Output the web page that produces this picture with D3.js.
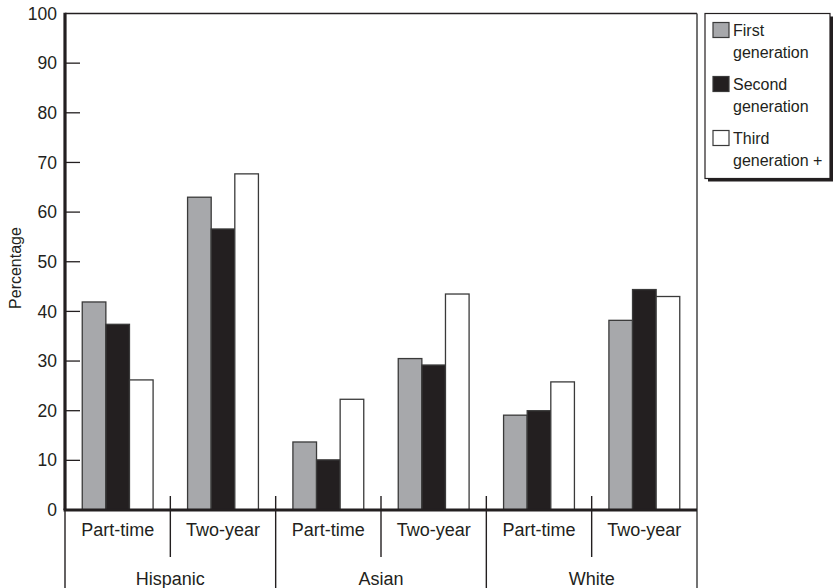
<!DOCTYPE html>
<html>
<head>
<meta charset="utf-8">
<script src="https://cdn.jsdelivr.net/npm/d3@7/dist/d3.min.js"></script>
<style>
  html, body { margin: 0; padding: 0; background: #fff; }
  svg { display: block; font-family: "Liberation Sans", Arial, Helvetica, sans-serif; }
</style>
</head>
<body>
<svg id="chart" width="834" height="588"></svg>
<script>
const groups = ["Hispanic", "Asian", "White"];
const types = ["Part-time", "Two-year"];
const generations = ["First generation", "Second generation", "Third generation +"];
const legendLines = [["First", "generation"], ["Second", "generation"], ["Third", "generation +"]];
const yTicks = [0, 10, 20, 30, 40, 50, 60, 70, 80, 90, 100];

// values per generation, order: Hispanic PT, Hispanic TY, Asian PT, Asian TY, White PT, White TY
const firstGen  = [41.9, 63.0, 13.7, 30.5, 19.1, 38.2];
const secondGen = [37.4, 56.6, 10.1, 29.2, 20.0, 44.4];
const thirdGen  = [26.2, 67.7, 22.3, 43.5, 25.8, 43.0];

const series = [firstGen, secondGen, thirdGen];
const fills = ["#a7a8ab", "#231f20", "#ffffff"];
const ink = "#231f20";

(function () {
const svg = d3.select("#chart");
const mLeft = 65, mRight = 697, mTop = 13.5, mBottom = 510;

const y = d3.scaleLinear().domain([0, 100]).range([mBottom, mTop]);
const xGroup = d3.scaleBand().domain(groups).range([mLeft, mRight]);
const xType = d3.scaleBand().domain(types).range([0, xGroup.bandwidth()]);
const xGen = d3.scaleBand().domain(generations).range([0, xType.bandwidth()]).paddingInner(0).paddingOuter(0.73);

const rows = [];
groups.forEach((g, gi) => types.forEach((t, ti) => {
  const idx = gi * types.length + ti;
  generations.forEach((gen, si) => rows.push({group: g, type: t, gen, si, value: series[si][idx]}));
}));

// frame: top and right border
svg.append("line").attr("x1", mLeft).attr("x2", mRight).attr("y1", mTop).attr("y2", mTop)
  .attr("stroke", ink).attr("stroke-width", 1.4);
svg.append("line").attr("x1", mRight).attr("x2", mRight).attr("y1", mTop).attr("y2", 588)
  .attr("stroke", "#444").attr("stroke-width", 1.5);

// bars
svg.append("g").selectAll("rect").data(rows).join("rect")
  .attr("x", d => xGroup(d.group) + xType(d.type) + xGen(d.gen))
  .attr("y", d => y(d.value))
  .attr("width", xGen.bandwidth())
  .attr("height", d => y(0) - y(d.value))
  .attr("fill", d => fills[d.si])
  .attr("stroke", "#3a3a3a")
  .attr("stroke-width", 1.3);

// y axis
const yAxis = d3.axisLeft(y).tickValues(yTicks).tickSize(0).tickPadding(8);
const ya = svg.append("g").attr("transform", `translate(${mLeft},0)`).call(yAxis);
ya.select(".domain").remove();
ya.selectAll("text").attr("font-size", 17.5).attr("fill", ink)
  .attr("font-family", "'Liberation Sans', Arial, sans-serif");
// inward tick marks
svg.append("g").selectAll("line").data(yTicks.filter(v => v > 0 && v < 100)).join("line")
  .attr("x1", mLeft).attr("x2", mLeft + 15)
  .attr("y1", d => y(d)).attr("y2", d => y(d))
  .attr("stroke", ink).attr("stroke-width", 1.3);

// left axis line (thick), extends down to the bottom
svg.append("line").attr("x1", mLeft).attr("x2", mLeft).attr("y1", mTop - 0.7).attr("y2", mBottom)
  .attr("stroke", ink).attr("stroke-width", 3.2);
svg.append("line").attr("x1", mLeft).attr("x2", mLeft).attr("y1", mBottom).attr("y2", 588)
  .attr("stroke", ink).attr("stroke-width", 1.4);

// baseline (thick)
svg.append("line").attr("x1", mLeft - 1.5).attr("x2", mRight).attr("y1", mBottom).attr("y2", mBottom)
  .attr("stroke", ink).attr("stroke-width", 3.2);

// separators between types
const sub = groups.map(g => xGroup(g) + xType(types[1]));
svg.append("g").selectAll("line").data(sub).join("line")
  .attr("x1", d => d).attr("x2", d => d).attr("y1", mBottom - 14).attr("y2", 557)
  .attr("stroke", ink).attr("stroke-width", 1.4);
// separators between groups
const gsep = groups.slice(1).map(g => xGroup(g));
svg.append("g").selectAll("line").data(gsep).join("line")
  .attr("x1", d => d).attr("x2", d => d).attr("y1", mBottom - 14).attr("y2", 588)
  .attr("stroke", ink).attr("stroke-width", 1.4);

// type labels
const typeLabels = [];
groups.forEach(g => types.forEach(t => typeLabels.push({g, t})));
svg.append("g").selectAll("text").data(typeLabels).join("text")
  .attr("x", d => xGroup(d.g) + xType(d.t) + xType.bandwidth() / 2)
  .attr("y", 536)
  .attr("text-anchor", "middle").attr("font-size", 18).attr("fill", ink)
  .text(d => d.t);

// group labels
svg.append("g").selectAll("text").data(groups).join("text")
  .attr("x", d => xGroup(d) + xGroup.bandwidth() / 2)
  .attr("y", 585)
  .attr("text-anchor", "middle").attr("font-size", 18).attr("fill", ink)
  .text(d => d);

// y label
svg.append("text")
  .attr("transform", "translate(21,268) rotate(-90)")
  .attr("text-anchor", "middle").attr("font-size", 16).attr("fill", ink)
  .text("Percentage");

// legend
const lg = svg.append("g");
lg.append("rect").attr("x", 708).attr("y", 16.5).attr("width", 125).attr("height", 165).attr("fill", ink);
lg.append("rect").attr("x", 705).attr("y", 13.5).attr("width", 125).attr("height", 165)
  .attr("fill", "#fff").attr("stroke", ink).attr("stroke-width", 1.2);
const items = lg.selectAll("g.item").data(generations).join("g").attr("class", "item")
  .attr("transform", (d, i) => `translate(0,${i * 54})`);
items.append("rect").attr("x", 713).attr("y", 22.5).attr("width", 16).attr("height", 15)
  .attr("fill", (d, i) => fills[i]).attr("stroke", "#3a3a3a").attr("stroke-width", 1.2);
items.append("text").attr("x", 733).attr("y", 36).attr("font-size", 16).attr("fill", ink)
  .text((d, i) => legendLines[i][0]);
items.append("text").attr("x", 733).attr("y", 58).attr("font-size", 16).attr("fill", ink)
  .text((d, i) => legendLines[i][1]);
})();
</script>
</body>
</html>
